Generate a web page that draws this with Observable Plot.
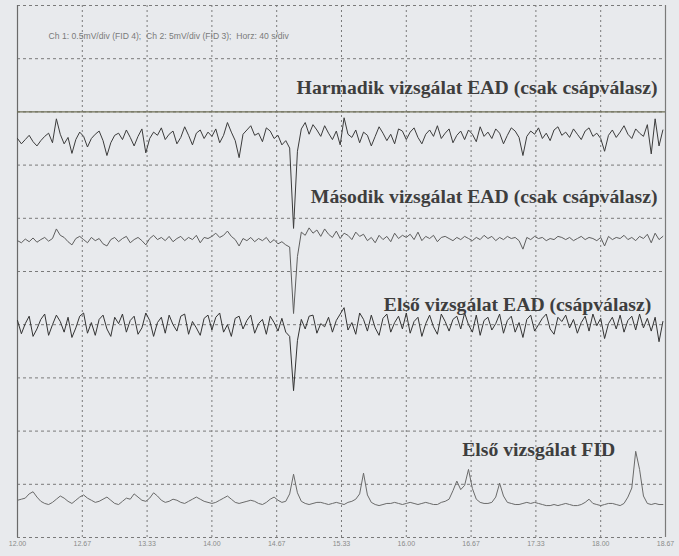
<!DOCTYPE html>
<html>
<head>
<meta charset="utf-8">
<script src="https://cdn.jsdelivr.net/npm/d3@7"></script>
<script src="https://cdn.jsdelivr.net/npm/@observablehq/plot@0.6"></script>
<style>
  html, body { margin: 0; padding: 0; background: #e8eaed; }
  #chart svg { display: block; }
</style>
</head>
<body>
<div id="chart"></div>
<script>
// Time axis (minutes)
const xTicks = [12.0, 12.6667, 13.3333, 14.0, 14.6667, 15.3333, 16.0, 16.6667, 17.3333, 18.0, 18.6667];
const xLabels = ["12.00", "12.67", "13.33", "14.00", "14.67", "15.33", "16.00", "16.67", "17.33", "18.00", "18.67"];
const tStart = 12.0;
const tStep = 0.04; // sampling interval, minutes

// Channel baselines (in screen divisions, 0 = bottom, 10 = top)
const baseEad3 = 7.46;
const baseEad2 = 5.58;
const baseEad1 = 3.98;
const baseFid = 0.68;

// Signals: deviation from baseline, hundredths of a division
const ead3 = [4,-6,2,10,-2,-10,0,8,14,-4,
  41,12,-6,6,-24,2,16,8,-12,4,
  12,18,0,-28,-4,10,14,2,20,6,
  -10,8,22,-23,4,16,10,24,2,12,
  18,-6,6,26,10,-8,14,20,4,16,
  8,22,-4,10,34,16,0,-32,12,20,
  28,10,14,-2,24,18,4,10,-8,0,
  -14,-165,-20,
  22,34,12,30,20,8,28,14,
  2,18,-8,43,12,6,20,-4,16,10,
  -10,8,26,14,0,12,-6,22,18,2,
  16,24,6,-6,12,20,8,28,4,14,
  22,-4,10,18,2,20,12,-2,26,8,
  16,4,22,14,-6,10,24,18,6,-28,
  8,18,12,24,4,14,0,20,26,10,
  16,6,22,12,2,18,24,8,14,4,
  -20,10,20,6,16,28,12,4,22,14,
  8,30,-25,41,-10,20];

const ead2 = [0,-4,3,-2,5,-3,2,6,-1,4,
  22,10,6,-2,-8,4,8,2,-4,6,
  0,4,-6,-10,2,6,-2,4,8,-4,
  2,6,0,-8,4,10,2,6,0,8,
  -2,4,8,0,6,2,10,-4,6,4,
  8,14,6,10,18,8,2,-10,4,0,
  6,-2,4,0,6,-4,2,-6,-2,-8,
  -12,-137,-30,
  16,10,24,14,20,8,22,12,
  6,18,4,14,10,2,16,8,12,0,
  6,-4,10,2,8,-2,14,4,10,6,
  12,2,16,0,8,4,10,-2,6,8,
  4,0,6,2,8,4,0,6,2,10,
  4,8,0,6,2,8,4,6,0,-16,
  6,2,8,4,6,0,4,2,8,6,
  2,6,0,4,8,2,6,4,0,6,
  -10,8,2,6,4,10,2,6,0,8,
  4,12,-4,14,2,8];

const ead1 = [10,-15,4,18,-20,-6,12,22,-18,2,
  20,8,-12,16,-22,-4,18,24,-14,6,
  -18,12,20,-6,-20,16,4,22,-12,10,
  18,-16,-4,24,10,-20,6,16,-14,20,
  2,-10,18,22,-16,8,-4,-18,14,20,
  -8,16,24,-12,2,-20,14,18,-6,10,
  20,-14,4,12,-16,18,6,-10,14,-12,
  -20,-122,-28,
  12,-6,18,20,-14,4,-2,16,
  -12,10,22,34,-8,6,-16,24,12,-10,
  20,-4,-18,14,22,-12,6,18,-6,24,
  -14,8,16,-20,4,20,-2,-16,22,8,
  -10,12,18,-6,24,2,-12,20,-18,10,
  16,-8,4,22,-14,10,18,-12,6,-22,
  12,20,-10,2,14,22,-6,-16,16,8,
  20,-4,12,-14,6,18,-10,22,0,14,
  -24,4,16,-6,20,-12,10,18,-8,22,
  -4,14,-10,16,-30,8];

const fid = [2,4,6,14,18,8,0,-4,-6,-2,
  4,10,6,0,-4,2,8,12,6,2,
  -2,0,4,8,2,-4,-6,0,6,4,
  14,8,2,0,6,16,10,2,-2,0,
  4,2,-2,-4,0,4,8,4,0,-2,
  -4,-2,2,6,10,4,-2,-4,-2,0,
  2,0,-4,-6,-2,4,8,2,-2,0,
  14,51,16,
  0,-4,-6,-4,-2,-2,-4,-6,
  -4,-2,-4,-6,-2,0,4,14,53,12,
  -2,-6,-8,-6,-4,-4,-2,-4,-6,-4,
  -2,-4,-6,-4,-2,-4,-6,-6,-2,0,
  4,20,38,22,30,60,24,4,-2,-4,
  -4,-2,8,34,10,-2,-4,-6,-6,-4,
  -2,-4,-2,-4,-6,-8,-8,-6,-8,-6,
  -4,-6,-8,-8,-6,-2,4,-4,-6,-8,
  -6,-4,-4,-6,-8,-4,8,25,94,60,
  10,-4,-6,-4,-6,-6];

const labels = [
  {text: "Harmadik vizsgálat EAD (csak csápválasz)", t: 18.585, y: 8.45},
  {text: "Második vizsgálat EAD (csak csápválasz)", t: 18.585, y: 6.40},
  {text: "Első vizsgálat EAD (csápválasz)", t: 18.52, y: 4.37},
  {text: "Első vizsgálat FID", t: 18.15, y: 1.66}
];
const header = "Ch 1: 0.5mV/div (FID 4);  Ch 2: 5mV/div (FID 3);  Horz: 40 s/div";

function series(values, base, name) {
  return values.map((v, i) => ({t: tStart + i * tStep, y: base + v / 100, name}));
}
const traces = [
  ...series(ead3, baseEad3, "ead3"),
  ...series(ead2, baseEad2, "ead2"),
  ...series(ead1, baseEad1, "ead1"),
  ...series(fid, baseFid, "fid")
];
const traceColor = {ead3: "#3c3c3c", ead2: "#5e5e5e", ead1: "#333333", fid: "#6a6a6a"};
const gridY = [0,1,2,3,4,5,6,7,8,9,10];
const labelMap = new Map(xTicks.map((d, i) => [d, xLabels[i]]));

const chart = Plot.plot({
  width: 679,
  height: 556,
  marginLeft: 17,
  marginRight: 14,
  marginTop: 5,
  marginBottom: 19,
  style: {background: "#e8eaed", fontFamily: "Liberation Sans, Arial, sans-serif"},
  x: {domain: [12, 18.6667], label: null},
  y: {domain: [0, 10], axis: null},
  marks: [
    Plot.ruleY(gridY, {stroke: "#7a7a7a", strokeWidth: 1, strokeDasharray: "3,3"}),
    Plot.ruleX(xTicks.slice(1, -1), {stroke: "#7a7a7a", strokeWidth: 1, strokeDasharray: "2,3"}),
    Plot.ruleX([12], {stroke: "#6a6a6a", strokeWidth: 1.2}),
    Plot.ruleX([18.6667], {stroke: "#7a7a7a", strokeWidth: 1.2}),
    Plot.ruleY([8.0], {stroke: "#6e6e55", strokeWidth: 1.3}),
    Plot.line(traces, {x: "t", y: "y", z: "name", stroke: d => traceColor[d.name], strokeWidth: 1}),
    Plot.text(labels, {x: "t", y: "y", text: "text", textAnchor: "end", fontFamily: "Liberation Serif, Times New Roman, serif", fontWeight: "bold", fontSize: 19.7, fill: "#3e3e3e"}),
    Plot.text([header], {x: 12.32, y: 9.42, text: d => d, textAnchor: "start", fontSize: 8.6, fill: "#7a7a7a"}),
    Plot.axisX(xTicks, {tickSize: 0, tickPadding: 4, fontSize: 7, fill: "#8a8a8a", label: null, tickFormat: d => labelMap.get(d)})
  ]
});
document.getElementById("chart").append(chart);
</script>
</body>
</html>
